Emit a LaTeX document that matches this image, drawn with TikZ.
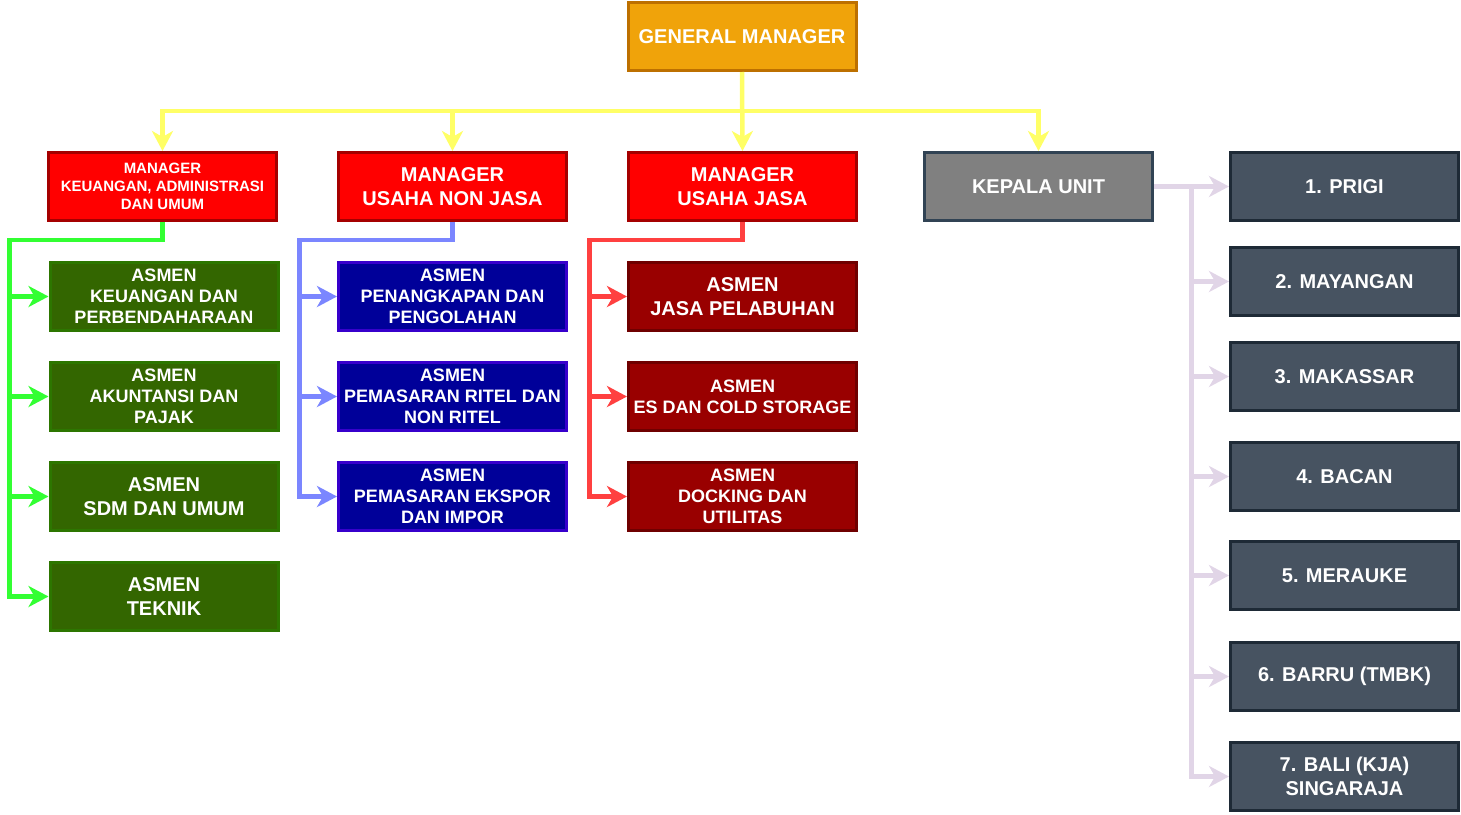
\documentclass[tikz,border=0pt]{standalone}
\usepackage{fontspec}
\setmainfont{Liberation Sans}
\usepackage{tikz}
\usetikzlibrary{arrows.meta}
\definecolor{gmfill}{HTML}{F0A30A}
\definecolor{gmline}{HTML}{BD7000}
\definecolor{mgrfill}{HTML}{FF0000}
\definecolor{mgrline}{HTML}{A50000}
\definecolor{kufill}{HTML}{808080}
\definecolor{kuline}{HTML}{314354}
\definecolor{keufill}{HTML}{336600}
\definecolor{keuline}{HTML}{2D7600}
\definecolor{nonfill}{HTML}{000099}
\definecolor{nonline}{HTML}{3700CC}
\definecolor{jasafill}{HTML}{990000}
\definecolor{jasaline}{HTML}{6F0000}
\definecolor{unitfill}{HTML}{475361}
\definecolor{unitline}{HTML}{1E2A36}
\definecolor{ylwline}{HTML}{FFFF66}
\definecolor{grnline}{HTML}{33FF33}
\definecolor{bluline}{HTML}{7B86FF}
\definecolor{redline}{HTML}{FF4040}
\definecolor{lavline}{HTML}{E1D5E7}
\tikzset {
  % every box of the chart
  box/.style = {draw, line width=3pt, minimum width=228pt, minimum height=68pt,
    inner sep=0pt, align=center, text=white},
  big/.style = {font=\bfseries\fontsize{20}{24}\selectfont},
  small/.style = {font=\bfseries\fontsize{18}{21}\selectfont},
  tiny/.style = {font=\bfseries\fontsize{15}{18}\selectfont},
  gm/.style = {box, big, fill=gmfill, draw=gmline},
  mgr/.style = {box, fill=mgrfill, draw=mgrline},
  kepala/.style = {box, big, fill=kufill, draw=kuline},
  keu/.style = {box, fill=keufill, draw=keuline},
  nonjasa/.style = {box, fill=nonfill, draw=nonline},
  jasa/.style = {box, fill=jasafill, draw=jasaline},
  unit/.style = {box, big, fill=unitfill, draw=unitline},
  % connectors
  link/.style = {line width=4.5pt, -{Stealth[length=20pt, width=21pt, inset=6pt]}},
  ylw/.style = {link, ylwline},
  grn/.style = {link, grnline},
  blu/.style = {link, bluline},
  rd/.style = {link, redline},
  lav/.style = {link, lavline},
}
\begin{document}
\begin{tikzpicture}[x=1pt, y=-1pt]
  \useasboundingbox (0,0) rectangle (1461,814);

  \node[gm] (gm) at (742,36.5) {GENERAL MANAGER};

  \node[mgr, tiny] (mk) at (162.5,186.5) {MANAGER\\KEUANGAN, ADMINISTRASI\\DAN UMUM};
  \node[mgr, big] (mn) at (452.5,186.5) {MANAGER\\USAHA NON JASA};
  \node[mgr, big] (mj) at (742.5,186.5) {MANAGER\\USAHA JASA};
  \node[kepala] (ku) at (1038.5,186.5) {KEPALA UNIT};

  % keuangan
  \node[keu, small] (k1) at (164,296.5) {ASMEN\\KEUANGAN DAN\\PERBENDAHARAAN};
  \node[keu, small] (k2) at (164,396.5) {ASMEN\\AKUNTANSI DAN\\PAJAK};
  \node[keu, big] (k3) at (164,496.5) {ASMEN\\SDM DAN UMUM};
  \node[keu, big] (k4) at (164,596.5) {ASMEN\\TEKNIK};

  % usaha non jasa
  \node[nonjasa, small] (n1) at (452.5,296.5) {ASMEN\\PENANGKAPAN DAN\\PENGOLAHAN};
  \node[nonjasa, small] (n2) at (452.5,396.5) {ASMEN\\PEMASARAN RITEL DAN\\NON RITEL};
  \node[nonjasa, small] (n3) at (452.5,496.5) {ASMEN\\PEMASARAN EKSPOR\\DAN IMPOR};

  % usaha jasa
  \node[jasa, big] (j1) at (742.5,296.5) {ASMEN\\JASA PELABUHAN};
  \node[jasa, small] (j2) at (742.5,396.5) {ASMEN\\ES DAN COLD STORAGE};
  \node[jasa, small] (j3) at (742.5,496.5) {ASMEN\\DOCKING DAN\\UTILITAS};

  % unit
  \node[unit] (u1) at (1344.5,186.5) {1. PRIGI};
  \node[unit] (u2) at (1344.5,281.5) {2. MAYANGAN};
  \node[unit] (u3) at (1344.5,376.5) {3. MAKASSAR};
  \node[unit] (u4) at (1344.5,476.5) {4. BACAN};
  \node[unit] (u5) at (1344.5,575.5) {5. MERAUKE};
  \node[unit] (u6) at (1344.5,676.5) {6. BARRU (TMBK)};
  \node[unit] (u7) at (1344.5,776.5) {7. BALI (KJA)\\SINGARAJA};

  \coordinate (ybus) at (742,111);
  \coordinate (gbus) at (9.5,240);
  \coordinate (bbus) at (299.5,240);
  \coordinate (rbus) at (589.5,240);
  \coordinate (lbus) at (1191.5,186.5);

  \draw[ylw] (gm.south) -- (ybus) -| (mk.north);
  \draw[ylw] (gm.south) -- (ybus) -| (mn.north);
  \draw[ylw] (gm.south) -- (mj.north);
  \draw[ylw] (gm.south) -- (ybus) -| (ku.north);

  \draw[grn] (mk.south) |- (gbus) |- (k1.west);
  \draw[grn] (mk.south) |- (gbus) |- (k2.west);
  \draw[grn] (mk.south) |- (gbus) |- (k3.west);
  \draw[grn] (mk.south) |- (gbus) |- (k4.west);

  \draw[blu] (mn.south) |- (bbus) |- (n1.west);
  \draw[blu] (mn.south) |- (bbus) |- (n2.west);
  \draw[blu] (mn.south) |- (bbus) |- (n3.west);

  \draw[rd] (mj.south) |- (rbus) |- (j1.west);
  \draw[rd] (mj.south) |- (rbus) |- (j2.west);
  \draw[rd] (mj.south) |- (rbus) |- (j3.west);

  \draw[lav] (ku.east) -- (u1.west);
  \draw[lav] (ku.east) -- (lbus) |- (u2.west);
  \draw[lav] (ku.east) -- (lbus) |- (u3.west);
  \draw[lav] (ku.east) -- (lbus) |- (u4.west);
  \draw[lav] (ku.east) -- (lbus) |- (u5.west);
  \draw[lav] (ku.east) -- (lbus) |- (u6.west);
  \draw[lav] (ku.east) -- (lbus) |- (u7.west);
\end{tikzpicture}
\end{document}
